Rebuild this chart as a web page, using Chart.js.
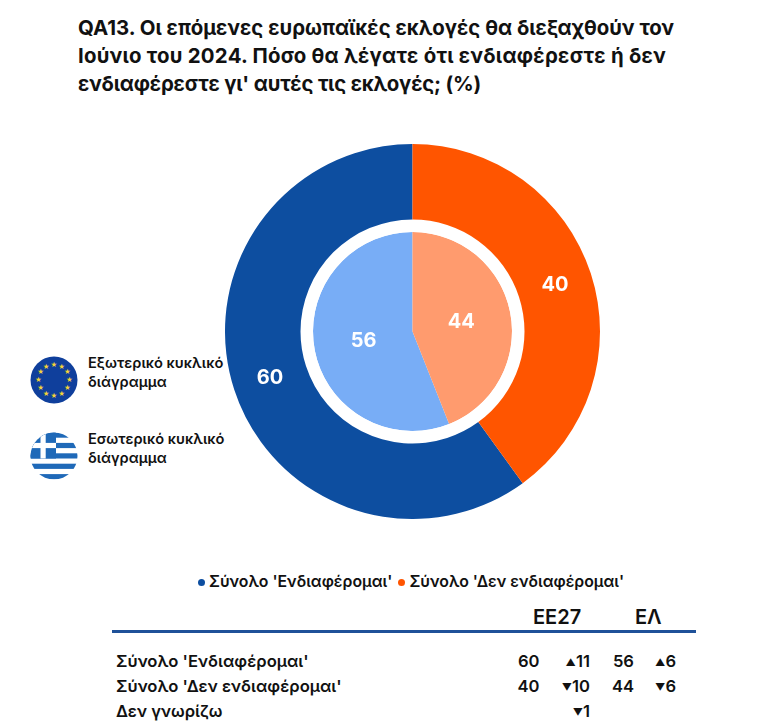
<!DOCTYPE html>
<html lang="el">
<head>
<meta charset="utf-8">
<title>QA13</title>
<script src="https://cdn.jsdelivr.net/npm/chart.js@4"></script>
<style>
    html, body { margin: 0; padding: 0; background: #fff; }
    body { width: 768px; height: 728px; position: relative; overflow: hidden; font-family: Inter, "Noto Sans", sans-serif; color: #111; }
    #title { position: absolute; left: 78px; top: 14px; width: 680px; font-size: 20.4px; line-height: 28px; font-weight: 700; white-space: nowrap; }
    #chartBox { position: absolute; left: 225px; top: 143.5px; width: 375px; height: 375px; }
    .pieLabel { position: absolute; left: 88px; font-size: 14.6px; line-height: 19px; font-weight: 600; white-space: nowrap; }
    .flag { position: absolute; left: 30px; width: 48px; height: 48px; }
    #legend { position: absolute; left: 198px; top: 572px; font-size: 15.8px; line-height: 20px; font-weight: 600; white-space: nowrap; }
    #legend i { display: inline-block; width: 7px; height: 7px; border-radius: 50%; margin: 0 4px 1px 0; }
    #legend span { margin-right: 6px; }
    .head { position: absolute; top: 606px; font-size: 20px; line-height: 22px; font-weight: 600; }
    #rule { position: absolute; left: 112px; top: 630px; width: 584px; height: 2.5px; background: #1f5199; }
    .cell { position: absolute; font-size: 16.6px; line-height: 20px; font-weight: 600; white-space: nowrap; }
    .num { text-align: right; width: 50px; }
    .num small { font-size: 10px; vertical-align: 1px; }
</style>
</head>
<body>
<div id="title">QA13. Οι επόμενες ευρωπαϊκές εκλογές θα διεξαχθούν τον<br><span style="letter-spacing:.25px">Ιούνιο του 2024. Πόσο θα λέγατε ότι ενδιαφέρεστε ή δεν</span><br><span style="letter-spacing:-.2px">ενδιαφέρεστε γι' αυτές τις εκλογές; (%)</span></div>

<div id="chartBox"><canvas id="myChart" width="375" height="375"></canvas></div>

<svg class="flag" style="top:356px" viewBox="0 0 48 48" id="euFlag">
    <circle cx="24" cy="24" r="23.5" fill="#0f3f9c"/>
</svg>
<div class="pieLabel" style="top:354px">Εξωτερικό κυκλικό<br>διάγραμμα</div>

<svg class="flag" style="top:431.5px" viewBox="0 0 48 48">
    <defs><clipPath id="disc"><circle cx="24" cy="24" r="23.5"/></clipPath></defs>
    <g clip-path="url(#disc)">
        <rect width="48" height="48" fill="#fff"/>
        <rect y="0.5" width="48" height="5.2" fill="#1f69b8"/>
        <rect y="10.9" width="48" height="5.2" fill="#1f69b8"/>
        <rect y="21.3" width="48" height="5.2" fill="#1f69b8"/>
        <rect y="31.7" width="48" height="5.2" fill="#1f69b8"/>
        <rect y="42.1" width="48" height="5.2" fill="#1f69b8"/>
        <rect y="0" width="26" height="26.5" fill="#1f69b8"/>
        <rect x="10.5" y="0" width="5.2" height="26.5" fill="#fff"/>
        <rect x="0" y="10.9" width="26" height="5.2" fill="#fff"/>
    </g>
</svg>
<div class="pieLabel" style="top:430px">Εσωτερικό κυκλικό<br>διάγραμμα</div>

<div id="legend"></div>
<div class="head" style="left:533px">ΕΕ27</div>
<div class="head" style="left:635px">ΕΛ</div>
<div id="rule"></div>
<div id="rows"></div>

<script>
const categories = ["Σύνολο 'Ενδιαφέρομαι'", "Σύνολο 'Δεν ενδιαφέρομαι'"];
const outerValues = [60, 40];   // EE27
const innerValues = [56, 44];   // ΕΛ
const outerColors = ['#0d4ea0', '#ff5500'];
const innerColors = ['#78adf6', '#ff9b6e'];

const rowLabels = ["Σύνολο 'Ενδιαφέρομαι'", "Σύνολο 'Δεν ενδιαφέρομαι'", 'Δεν γνωρίζω'];
const euTotals = ['60', '40', ''];
const euChanges = ['▲11', '▼10', '▼1'];
const elTotals = ['56', '44', ''];
const elChanges = ['▲6', '▼6', ''];

// white gap between the two pies is a dataset of its own
const gapValues = [1];

const sliceLabels = {
    id: 'sliceLabels',
    afterDatasetsDraw(chart) {
        const ctx = chart.ctx;
        ctx.save();
        ctx.fillStyle = '#fff';
        ctx.font = '700 20px Inter, "Noto Sans", sans-serif';
        ctx.textAlign = 'center';
        ctx.textBaseline = 'middle';
        [0, 2].forEach(i => {
            chart.getDatasetMeta(i).data.forEach((arc, j) => {
                const p = arc.tooltipPosition();
                ctx.fillText(chart.data.datasets[i].data[j], p.x, p.y);
            });
        });
        ctx.restore();
    }
};

function chart () {
    new Chart(document.getElementById('myChart').getContext('2d'), {
        type: 'pie',
        data: {
            labels: categories,
            datasets: [
                // first slice starts after the second one, so the second sits right of 12 o'clock
                { data: outerValues, backgroundColor: outerColors, weight: 75.5, borderWidth: 0, rotation: outerValues[1] * 3.6 },
                { data: gapValues, backgroundColor: ['#fff'], weight: 12.5, borderWidth: 0 },
                { data: innerValues, backgroundColor: innerColors, weight: 99.5, borderWidth: 0, rotation: innerValues[1] * 3.6 }
            ]
        },
        options: {
            responsive: false,
            animation: false,
            hoverOffset: 0,
            plugins: { legend: { display: false }, tooltip: { enabled: false } }
        },
        plugins: [sliceLabels]
    });
}

function euStars () {
    const svg = document.getElementById('euFlag');
    for (let i = 0; i < 12; i++) {
        const a = i * Math.PI / 6;
        const star = document.createElementNS('http://www.w3.org/2000/svg', 'text');
        star.setAttribute('x', 24 + 15.5 * Math.sin(a));
        star.setAttribute('y', 26.2 - 15.5 * Math.cos(a));
        star.setAttribute('text-anchor', 'middle');
        star.setAttribute('font-size', '6.5');
        star.setAttribute('fill', '#f2d338');
        star.textContent = '★';
        svg.appendChild(star);
    }
}

function legend () {
    document.getElementById('legend').innerHTML = categories
        .map((c, i) => `<span><i style="background:${outerColors[i]}"></i>${c}</span>`).join('');
}

function table () {
    const cell = (cls, left, top, text) =>
        `<div class="${cls}" style="left:${left}px;top:${top}px">${text}</div>`;
    const change = s => s ? `<small>${s[0]}</small>${s.slice(1)}` : '';
    let html = '';
    rowLabels.forEach((label, i) => {
        const top = 651 + i * 25;
        html += cell('cell', 116, top, label);
        html += cell('cell num', 489.5, top, euTotals[i]);
        html += cell('cell num', 540, top, change(euChanges[i]));
        html += cell('cell num', 584, top, elTotals[i]);
        html += cell('cell num', 626, top, change(elChanges[i]));
    });
    document.getElementById('rows').innerHTML = html;
}

function main () {
    chart();
    euStars();
    legend();
    table();
}

window.onload = main;
</script>
</body>
</html>
